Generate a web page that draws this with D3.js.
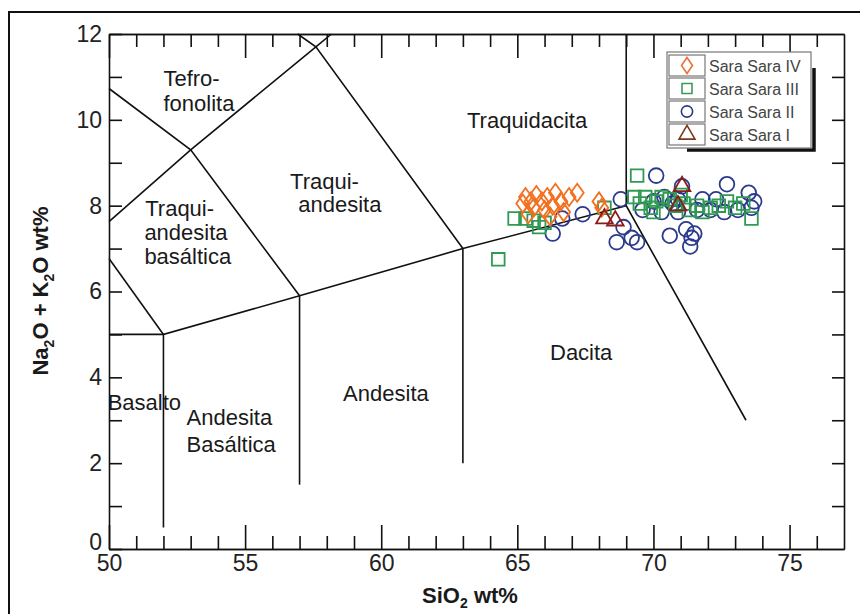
<!DOCTYPE html>
<html>
<head>
<meta charset="utf-8">
<script src="https://cdn.jsdelivr.net/npm/d3@7"></script>
<style>
  body { margin: 0; background: #fff; }
  svg text { font-family: "Liberation Sans", Arial, sans-serif; }
</style>
</head>
<body>
<svg id="tas" width="860" height="614"></svg>
<script>
// sample data (SiO2, Na2O+K2O)
var saraIV = [[65.2,8.05],[65.3,8.2],[65.5,8.1],[65.6,7.95],[65.7,8.25],[65.9,8.1],[66.0,7.9],[66.1,8.2],
  [66.3,8.0],[66.4,8.3],[66.6,8.1],[66.7,7.85],[66.9,8.2],[67.2,8.3],[66.2,7.75],[68.0,8.1],[68.1,7.95],[65.4,7.8]];
var saraIII = [[64.3,6.75],[64.9,7.7],[65.3,7.7],[65.6,7.65],[65.8,7.5],[66.0,7.6],[68.2,7.95],[69.4,8.7],
  [69.3,8.2],[69.5,8.05],[69.7,8.2],[69.9,7.95],[70.1,8.1],[70.3,8.2],[70.6,8.15],[70.8,8.0],[71.1,8.05],
  [71.3,7.9],[71.6,8.0],[71.8,7.85],[72.1,7.95],[72.4,8.0],[72.7,8.1],[73.0,7.95],[73.3,8.05],[73.6,7.7],
  [70.0,7.85],[71.0,8.25]];
var saraII = [[66.3,7.35],[66.65,7.7],[67.4,7.8],[68.65,7.15],[68.9,7.5],[68.8,8.15],[69.4,7.15],[69.6,7.9],
  [70.1,8.7],[70.0,8.1],[70.3,7.85],[70.4,8.2],[70.6,7.3],[70.7,8.05],[70.9,7.85],[71.05,8.45],[71.2,7.45],
  [71.4,7.25],[71.35,7.05],[71.5,7.35],[71.6,7.9],[71.8,8.15],[72.1,7.9],[72.3,8.15],[72.6,7.85],[72.7,8.5],
  [73.1,7.9],[73.5,8.3],[73.7,8.1],[73.6,7.95],[70.9,8.15],[69.2,7.25]];
var saraI = [[68.2,7.7],[68.6,7.65],[71.05,8.45],[70.9,8.0]];

// TAS field boundaries
var boundaries = [
  [[50,5],[52,5]],
  [[52,0.5],[52,5],[57,5.9],[63,7],[69,8]],
  [[50,6.77],[52,5]],
  [[57,1.5],[57,5.9]],
  [[63,2],[63,7]],
  [[50,7.63],[53,9.3],[57.6,11.7],[58.17,12]],
  [[50,10.73],[53,9.3],[57,5.9]],
  [[56.93,12],[57.6,11.7],[63,7]],
  [[69,12],[69,8],[73.4,3.0]]
];

// field names, one entry per text line
var fieldLabels = [
  {t:"Tefro-", x:52.0, y:10.8}, {t:"fonolita", x:52.0, y:10.2},
  {t:"Traqui-", x:51.33, y:7.75}, {t:"andesita", x:51.3, y:7.2}, {t:"basáltica", x:51.3, y:6.65},
  {t:"Traqui-", x:56.65, y:8.4}, {t:"andesita", x:56.95, y:7.85},
  {t:"Traquidacita", x:63.15, y:9.8},
  {t:"Dacita", x:66.2, y:4.4},
  {t:"Andesita", x:58.6, y:3.45},
  {t:"Basalto", x:49.95, y:3.25},
  {t:"Andesita", x:52.85, y:2.9}, {t:"Basáltica", x:52.85, y:2.25}
];

var seriesNames = ["Sara Sara IV", "Sara Sara III", "Sara Sara II", "Sara Sara I"];
var xMajor = [50, 55, 60, 65, 70, 75];
var xMinor = [51,52,53,54,56,57,58,59,61,62,63,64,66,67,68,69,71,72,73,74,76];
var yTicks = d3.range(0, 13, 1);
var yLabels = [0, 2, 4, 6, 8, 10, 12];

var svg = d3.select("#tas");
var x = d3.scaleLinear().domain([50, 77]).range([109, 844]);
var y = d3.scaleLinear().domain([0, 12]).range([549, 34]);

// outer frame of the figure
svg.append("rect").attr("x", 9).attr("y", 12).attr("width", 900).attr("height", 700)
  .attr("fill", "none").attr("stroke", "#111").attr("stroke-width", 2);

var gAx = svg.append("g");
function styleAxis(g) {
  g.selectAll("path").attr("stroke", "#111").attr("stroke-width", 1.6);
  g.selectAll("line").attr("stroke", "#111").attr("stroke-width", 1.6);
  g.selectAll("text").attr("fill", "#222").style("font-size", "23px").style("font-family", "Liberation Sans, Arial");
}
// bottom
gAx.append("g").attr("transform", "translate(0,549)")
  .call(d3.axisBottom(x).tickValues(xMajor).tickSizeInner(-24).tickSizeOuter(0).tickPadding(6).tickFormat(d3.format("d")))
  .call(styleAxis);
gAx.append("g").attr("transform", "translate(0,549)")
  .call(d3.axisBottom(x).tickValues(xMinor).tickSizeInner(-13).tickSizeOuter(0).tickFormat(""))
  .call(styleAxis);
// top
gAx.append("g").attr("transform", "translate(0,34)")
  .call(d3.axisTop(x).tickValues(xMajor).tickSizeInner(-24).tickSizeOuter(0).tickFormat(""))
  .call(styleAxis);
gAx.append("g").attr("transform", "translate(0,34)")
  .call(d3.axisTop(x).tickValues(xMinor).tickSizeInner(-13).tickSizeOuter(0).tickFormat(""))
  .call(styleAxis);
// left
var yAxisG = gAx.append("g").attr("transform", "translate(109,0)")
  .call(d3.axisLeft(y).tickValues(yTicks).tickSizeInner(-13).tickSizeOuter(0).tickPadding(7)
    .tickFormat(d => yLabels.includes(d) ? d : ""))
  .call(styleAxis);
// lift the "0" so it sits above the "50" like in the figure
yAxisG.selectAll(".tick text").filter(d => d === 0).attr("y", -7);
// right
gAx.append("g").attr("transform", "translate(844,0)")
  .call(d3.axisRight(y).tickValues(yTicks.slice(1, 12)).tickSizeInner(-12).tickSizeOuter(0).tickFormat(""))
  .call(styleAxis);

// field boundaries
var line = d3.line().x(d => x(d[0])).y(d => y(d[1]));
svg.append("g").selectAll("path").data(boundaries).enter()
  .append("path")
  .attr("d", line)
  .attr("fill", "none")
  .attr("stroke", "#111")
  .attr("stroke-width", 1.6);

svg.append("g").selectAll("text").data(fieldLabels).enter()
  .append("text")
  .attr("x", d => x(d.x))
  .attr("y", d => y(d.y))
  .attr("fill", "#1a1a1a")
  .style("font-size", "22px")
  .text(d => d.t);

// samples
var sym = {
  circle: d3.symbol().type(d3.symbolCircle).size(170),
  square: d3.symbol().type(d3.symbolSquare).size(160),
  diamond: function () { return "M0,-9L6.5,0L0,9L-6.5,0Z"; },
  triangle: d3.symbol().type(d3.symbolTriangle).size(120)
};
var series = [
  {data: saraII, shape: "circle", color: "#2b3a8c"},
  {data: saraIII, shape: "square", color: "#2f9a52"},
  {data: saraIV, shape: "diamond", color: "#f2701f"},
  {data: saraI, shape: "triangle", color: "#8a1c1c"}
];
series.forEach(function (s) {
  svg.append("g").selectAll("path").data(s.data).enter()
    .append("path")
    .attr("transform", d => "translate(" + x(d[0]) + "," + y(d[1]) + ")")
    .attr("d", sym[s.shape]())
    .attr("fill", "none")
    .attr("stroke", s.color)
    .attr("stroke-width", 1.8);
});

// legend
var legend = svg.append("g").attr("transform", "translate(667,52)");
legend.append("path").attr("d", "M147,16V98H20").attr("fill", "none").attr("stroke", "#111").attr("stroke-width", 3.5);
legend.append("rect").attr("width", 144).attr("height", 96).attr("fill", "#fff").attr("stroke", "#777").attr("stroke-width", 1.2);
var legItems = [
  {name: seriesNames[0], shape: "diamond", color: "#e8733a"},
  {name: seriesNames[1], shape: "square", color: "#3c9a5c"},
  {name: seriesNames[2], shape: "circle", color: "#2b3a8c"},
  {name: seriesNames[3], shape: "triangle", color: "#7a3a1a"}
];
var row = legend.selectAll(".row").data(legItems).enter().append("g")
  .attr("transform", (d, i) => "translate(0," + (3 + i * 23) + ")");
row.append("rect").attr("x", 2).attr("width", 36).attr("height", 21)
  .attr("fill", "none").attr("stroke", "#777").attr("stroke-width", 1.2);
row.append("path").attr("transform", "translate(20,10.5)")
  .attr("d", d => d.shape === "diamond" ? "M0,-8L5.5,0L0,8L-5.5,0Z" :
    d3.symbol().type({square: d3.symbolSquare, circle: d3.symbolCircle, triangle: d3.symbolTriangle}[d.shape])
      .size(d.shape === "triangle" ? 110 : 100)())
  .attr("fill", "none").attr("stroke", d => d.color).attr("stroke-width", 1.6);
row.append("text").attr("x", 42).attr("y", 16.5).attr("fill", "#444").style("font-size", "16px").text(d => d.name);

// axis titles
svg.append("text").attr("x", 470).attr("y", 603).attr("text-anchor", "middle")
  .style("font-size", "22px").style("font-weight", "bold").attr("fill", "#1a1a1a")
  .html('SiO<tspan dy="5" font-size="14">2</tspan><tspan dy="-5"> wt%</tspan>');
svg.append("text").attr("transform", "translate(48,291) rotate(-90)").attr("text-anchor", "middle")
  .style("font-size", "22px").style("font-weight", "bold").attr("fill", "#1a1a1a")
  .html('Na<tspan dy="6" font-size="14">2</tspan><tspan dy="-6">O + K</tspan><tspan dy="6" font-size="14">2</tspan><tspan dy="-6">O wt%</tspan>');
</script>
</body>
</html>
